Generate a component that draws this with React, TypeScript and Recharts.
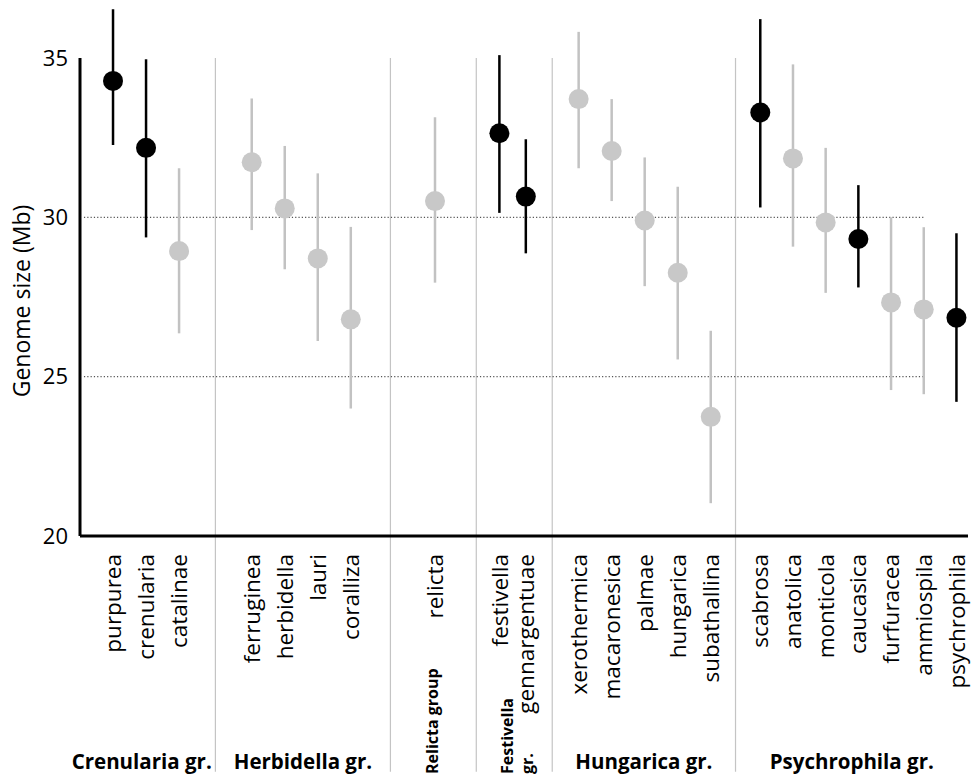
import { ErrorBar, ReferenceLine, Scatter, ScatterChart, XAxis, YAxis } from "recharts";

const FONT = '"Open Sans", sans-serif';
const DARK_COLOR = "#000000";
const LIGHT_DOT = "#c8c8c8";
const LIGHT_BAR = "#c2c2c2";

// species, mean genome size (Mb) and error bar ends
const SPECIES = [
  "purpurea", "crenularia", "catalinae",
  "ferruginea", "herbidella", "lauri", "coralliza",
  "relicta",
  "festivella", "gennargentuae",
  "xerothermica", "macaronesica", "palmae", "hungarica", "subathallina",
  "scabrosa", "anatolica", "monticola", "caucasica", "furfuracea", "ammiospila", "psychrophila",
];
const MEAN = [
  34.28, 32.18, 28.94,
  31.73, 30.28, 28.71, 26.8,
  30.51,
  32.64, 30.65,
  33.71, 32.08, 29.9, 28.26, 23.74,
  33.29, 31.85, 29.84, 29.32, 27.33, 27.11, 26.85,
];
const LOW = [
  32.27, 29.37, 26.36,
  29.6, 28.37, 26.12, 24.0,
  27.95,
  30.14, 28.87,
  31.54, 30.51, 27.84, 25.54, 21.03,
  30.31, 29.08, 27.63, 27.8, 24.58, 24.45, 24.21,
];
const HIGH = [
  36.53, 34.96, 31.54,
  33.73, 32.24, 31.38, 29.7,
  33.14,
  35.09, 32.45,
  35.82, 33.71, 31.88, 30.96, 26.44,
  36.22, 34.8, 32.18, 31.01, 30.0, 29.69, 29.5,
];
const HIGHLIGHTED = [
  true, true, false,
  false, false, false, false,
  false,
  true, true,
  false, false, false, false, false,
  true, false, false, true, false, false, true,
];

const GROUPS = ["Crenularia gr.", "Herbidella gr.", "Relicta group", "Festivella gr.", "Hungarica gr.", "Psychrophila gr."];
const GROUP_SIZES = [3, 4, 1, 2, 5, 7];
const Y_TICKS = [20, 25, 30, 35];

// spacing of each group on the x axis (axis units): padding before, step, padding after
const GROUP_LAYOUT = [
  { padL: 1.0, step: 1.0, padR: 1.1 },
  { padL: 1.1, step: 1.0, padR: 1.2 },
  { padL: 1.35, step: 1.0, padR: 1.25 },
  { padL: 0.7, step: 0.8, padR: 0.8 },
  { padL: 0.8, step: 1.0, padR: 0.75 },
  { padL: 0.75, step: 0.99, padR: 0.35 },
];
const ROTATED_GROUP_LINES: Record<number, string[]> = {
  2: ["Relicta group"],
  3: ["Festivella", "gr."],
};

const Y_MAX = 36.82;
const Y_BOTTOM_EXT = 12.6;

// positions along the x axis, built from the group layout
const xPos: number[] = [];
const groupStart: number[] = [];
const groupEnd: number[] = [];
let cursor = 0;
GROUP_SIZES.forEach((n, g) => {
  const l = GROUP_LAYOUT[g];
  groupStart.push(cursor);
  for (let i = 0; i < n; i++) xPos.push(cursor + l.padL + i * l.step);
  cursor += l.padL + (n - 1) * l.step + l.padR;
  groupEnd.push(cursor);
});
const X_MAX = cursor;
const groupCenters = groupStart.map((s, g) => (s + groupEnd[g]) / 2);
const separators = groupEnd.slice(0, -1);

const points = SPECIES.map((name, i) => ({
  name,
  x: xPos[i],
  mean: MEAN[i],
  err: [MEAN[i] - LOW[i], HIGH[i] - MEAN[i]],
  dark: HIGHLIGHTED[i],
}));
const darkPoints = points.filter((p) => p.dark);
const lightPoints = points.filter((p) => !p.dark);
// anchors so the group axis has data of its own (drawn as nothing)
const groupAnchors = groupCenters.map((c) => ({ gx: c, mean: 20 }));

function SpeciesTick(props: any) {
  const { x, y, index } = props;
  return (
    <text
      transform={`translate(${x},${y + 16}) rotate(-90)`}
      textAnchor="end"
      dy="0.36em"
      fontSize={22.5}
      fontFamily={FONT}
      fill="#000"
    >
      {SPECIES[index]}
    </text>
  );
}

function GroupTick(props: any) {
  const { x, y, index } = props;
  const lines = ROTATED_GROUP_LINES[index];
  if (lines) {
    return (
      <g>
        {lines.map((line, i) => (
          <text
            key={line}
            transform={`translate(${x + (i - (lines.length - 1) / 2) * 20 + (lines.length > 1 ? 3 : -1)},${y + 56}) rotate(-90)`}
            textAnchor="start"
            dy="0.36em"
            fontSize={16}
            fontWeight={700}
            fontFamily={FONT}
            fill="#000"
          >
            {line}
          </text>
        ))}
      </g>
    );
  }
  return (
    <text
      x={x + (index === 0 ? -6 : 0)}
      y={y + 51}
      textAnchor="middle"
      fontSize={20.5}
      fontWeight={700}
      fontFamily={FONT}
      fill="#000"
    >
      {GROUPS[index]}
    </text>
  );
}

function YLabel(props: any) {
  const { viewBox } = props;
  const cx = viewBox.x + 2;
  const cy = 301;
  return (
    <text
      transform={`translate(${cx},${cy}) rotate(-90)`}
      textAnchor="middle"
      dy="0.36em"
      fontSize={23}
      fontFamily={FONT}
      fill="#000"
    >
      Genome size (Mb)
    </text>
  );
}

const dot = (fill: string) => (p: any) => <circle cx={p.cx} cy={p.cy} r={10} fill={fill} />;
const noShape = () => <g />;

export default function App() {
  return (
    <div style={{ width: 971, height: 779 }}>
      <style>{`body { margin: 0; background: #fff; }`}</style>
      <ScatterChart width={971} height={779} margin={{ top: 0, right: 3, left: 20, bottom: 0 }}>
        <XAxis
          dataKey="x"
          type="number"
          domain={[0, X_MAX]}
          allowDataOverflow
          ticks={xPos}
          interval={0}
          tick={<SpeciesTick />}
          tickLine={false}
          tickSize={0}
          axisLine={{ stroke: "#000", strokeWidth: 3 }}
          height={180}
        />
        <XAxis
          xAxisId="groups"
          dataKey="gx"
          type="number"
          domain={[0, X_MAX]}
          allowDataOverflow
          ticks={groupCenters}
          interval={0}
          tick={<GroupTick />}
          tickLine={false}
          tickSize={0}
          axisLine={false}
          height={63}
        />
        <YAxis
          dataKey="mean"
          type="number"
          domain={[20, Y_MAX]}
          allowDataOverflow
          ticks={Y_TICKS}
          interval={0}
          tickLine={false}
          tickSize={0}
          tickMargin={12}
          axisLine={false}
          width={60}
          tick={{ fontSize: 22, fontFamily: FONT, fill: "#000" }}
          label={<YLabel />}
        />
        {separators.map((s) => (
          <ReferenceLine
            key={s}
            segment={[{ x: s, y: 35 }, { x: s, y: Y_BOTTOM_EXT }]}
            stroke="#c4c4c4"
            strokeWidth={1.2}
            ifOverflow="visible"
          />
        ))}
        {[30, 25].map((v) => (
          <ReferenceLine
            key={v}
            segment={[{ x: 0.12, y: v }, { x: xPos[SPECIES.indexOf("ammiospila")], y: v }]}
            stroke="#555"
            strokeWidth={1.2}
            strokeDasharray="1.2 2.1"
            ifOverflow="visible"
          />
        ))}
        <ReferenceLine
          segment={[{ x: 0, y: 20 }, { x: 0, y: 35 }]}
          stroke="#000"
          strokeWidth={3}
          ifOverflow="visible"
        />
        <Scatter
          xAxisId="groups"
          data={groupAnchors}
          dataKey="mean"
          shape={noShape}
          legendType="none"
          isAnimationActive={false}
        />
        <Scatter data={lightPoints} dataKey="mean" shape={dot(LIGHT_DOT)} isAnimationActive={false}>
          <ErrorBar dataKey="err" direction="y" width={0} stroke={LIGHT_BAR} strokeWidth={2.5} />
        </Scatter>
        <Scatter data={darkPoints} dataKey="mean" shape={dot(DARK_COLOR)} isAnimationActive={false}>
          <ErrorBar dataKey="err" direction="y" width={0} stroke={DARK_COLOR} strokeWidth={2.5} />
        </Scatter>
      </ScatterChart>
    </div>
  );
}
